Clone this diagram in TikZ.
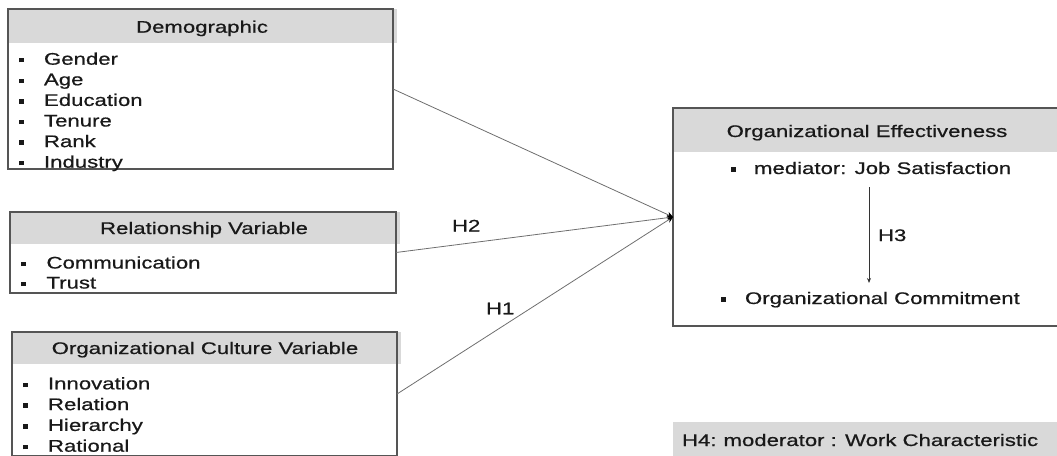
\documentclass[tikz,border=0pt]{standalone}
\usepackage{fontspec}
\setmainfont[FakeStretch=1.32,FakeBold=0.7]{Liberation Sans}
\usetikzlibrary{arrows.meta,backgrounds}

\definecolor{hdrgray}{RGB}{217,217,217}
\definecolor{edgegray}{RGB}{85,85,85}
\definecolor{wiregray}{RGB}{110,110,110}
\definecolor{inkgray}{RGB}{25,25,25}

% small square list marker
\newcommand\sqmark{\rule[2.3pt]{4.5pt}{4.5pt}}

\tikzset{
  x=1pt, y=-1pt,
  every node/.style={font=\fontsize{16.8}{19}\selectfont, text=inkgray, inner sep=0pt, outer sep=0pt},
  frame/.style={draw=edgegray, line width=1.1pt, anchor=north west, rectangle},
  title/.style={anchor=base},
  entry/.style={anchor=base west},
  wire/.style={draw=wiregray, line width=0.8pt, -{Stealth[length=6pt,width=5.5pt,color=black]}},
  hyp/.style={anchor=base west},
}

\begin{document}
\begin{tikzpicture}
\useasboundingbox (0,0) rectangle (1057,455);

% ---------- Demographic ----------
\node[frame, minimum width=385pt, minimum height=160pt] (demo) at (8,9) {};
\node[title] (demo-t) at (202,32.7) {Demographic};
\foreach \t [count=\i] in {Gender,Age,Education,Tenure,Rank,Industry}
  \node[entry] (demo-\i) at (19,{64.7+20.6*(\i-1)}) {\sqmark\hspace{20.5pt}\t};

% ---------- Relationship Variable ----------
\node[frame, minimum width=386pt, minimum height=81pt] (rel) at (10,212) {};
\node[title] (rel-t) at (204,234) {Relationship Variable};
\foreach \t [count=\i] in {Communication,Trust}
  \node[entry] (rel-\i) at (21,{268.5+20*(\i-1)}) {\sqmark\hspace{21pt}\t};

% ---------- Organizational Culture Variable ----------
\node[frame, minimum width=385pt, minimum height=124pt] (cult) at (12,332) {};
\node[title] (cult-t) at (205,354) {Organizational Culture Variable};
\foreach \t [count=\i] in {Innovation,Relation,Hierarchy,Rational}
  \node[entry] (cult-\i) at (23,{389.3+20.8*(\i-1)}) {\sqmark\hspace{20.5pt}\t};

% ---------- Organizational Effectiveness ----------
\node[frame, minimum width=392pt, minimum height=218pt] (oe) at (673,108) {};
\node[title] (oe-t) at (867,137) {Organizational Effectiveness};
\node[entry] (med) at (731,174) {\sqmark\hspace{18.5pt}mediator: Job Satisfaction};
\node[entry] (com) at (721,304) {\sqmark\hspace{19.5pt}Organizational Commitment};
\coordinate (h3top) at (869,187);
\coordinate (h3bot) at (869,283);
\draw[draw=black!80, line width=1pt, -{Stealth[length=5pt,width=4pt]}] (h3top) -- (h3bot);
\node[hyp] (h3) at (878,241) {H3};

% ---------- header bands and moderator strip ----------
\begin{scope}[on background layer]
  \fill[hdrgray] (demo.north west) rectangle ([xshift=4pt,yshift=-34pt]demo.north east);
  \fill[hdrgray] (rel.north west) rectangle ([xshift=4pt,yshift=-32pt]rel.north east);
  \fill[hdrgray] (cult.north west) rectangle ([xshift=4pt,yshift=-32pt]cult.north east);
  \fill[hdrgray] (oe.north west) rectangle ([yshift=-44pt]oe.north east);
  \fill[hdrgray] (673,422) rectangle (1060,460);
\end{scope}
\node[hyp] (h4) at (682,446) {H4:\hspace{7pt}moderator : Work Characteristic};

% ---------- hypothesis paths ----------
\draw[wire] (demo.east) -- (oe.west);
\draw[wire] (rel.east) -- (oe.west);
\draw[wire] (cult.east) -- (oe.west);
\node[hyp] (h2) at (452,231.5) {H2};
\node[hyp] (h1) at (486,314.3) {H1};
\end{tikzpicture}
\end{document}
